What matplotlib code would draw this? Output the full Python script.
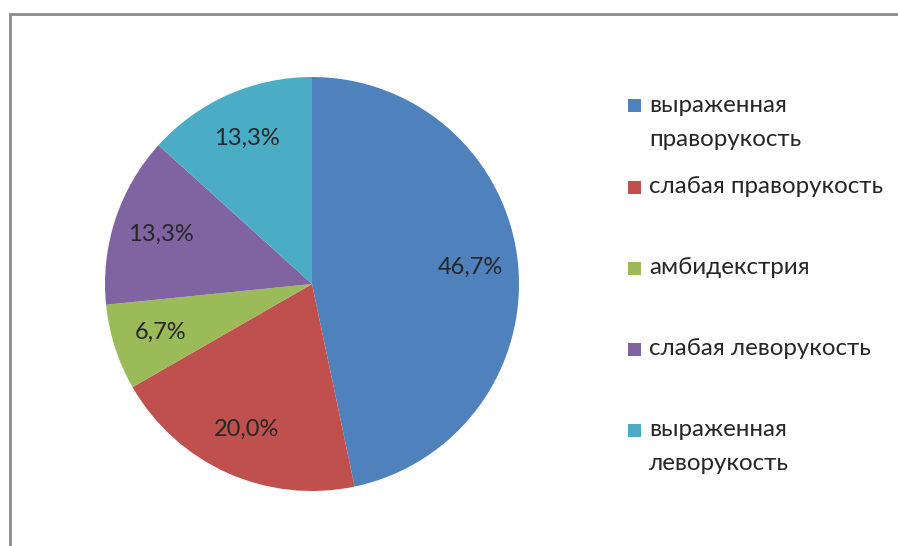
"""Pie chart: distribution of handedness (Russian labels)."""

import math

import matplotlib.pyplot as plt
from matplotlib.patches import Rectangle

categories = [
    "выраженная\nправорукость",
    "слабая праворукость",
    "амбидекстрия",
    "слабая леворукость",
    "выраженная\nлеворукость",
]
shares = [46.7, 20.0, 6.7, 13.3, 13.3]
pct_labels = ["46,7%", "20,0%", "6,7%", "13,3%", "13,3%"]
colors = ["#4F81BD", "#C0504D", "#9BBB59", "#8064A2", "#4BACC6"]

plt.rcParams["font.family"] = ["Lato", "DejaVu Sans"]
TEXT_COLOR = "#262626"

fig = plt.figure(figsize=(8.98, 5.46), dpi=100)

# outer chart frame (cut off on the right and bottom like the original)
fig.patches.append(Rectangle((10 / 898, -0.1), 1.0, 1 - 14 / 546 + 0.1,
                             transform=fig.transFigure, fill=False,
                             edgecolor="#8c8c8c", linewidth=2))

# pie axes: center (312, 284), radius ~207 px
r = 207
cx, cy = 312, 546 - 284
ax = fig.add_axes([(cx - r) / 898, (cy - r) / 546, 2 * r / 898, 2 * r / 546])
wedges, _ = ax.pie(shares, colors=colors, startangle=90, counterclock=False,
                   wedgeprops={"linewidth": 0})
ax.set_aspect("equal")
ax.set_xlim(-1, 1)
ax.set_ylim(-1, 1)

for w, lab in zip(wedges, pct_labels):
    ang = math.radians(0.5 * (w.theta1 + w.theta2))
    d = 0.77
    ax.text(d * math.cos(ang), d * math.sin(ang), lab, ha="center",
            va="center", fontsize=17, color=TEXT_COLOR)

# legend, first line of each entry aligned with its marker
y0 = 546 - 106
step = 81
for i, (lab, col) in enumerate(zip(categories, colors)):
    y = (y0 - i * step) / 546
    fig.patches.append(Rectangle((628 / 898, y - 6.5 / 546), 13 / 898,
                                 13 / 546, transform=fig.transFigure,
                                 facecolor=col, edgecolor="none"))
    fig.text(649 / 898, y + 11 / 546, lab, ha="left", va="top",
             fontsize=17.4, color=TEXT_COLOR, linespacing=1.78)

fig.savefig("out.png", dpi=100)
